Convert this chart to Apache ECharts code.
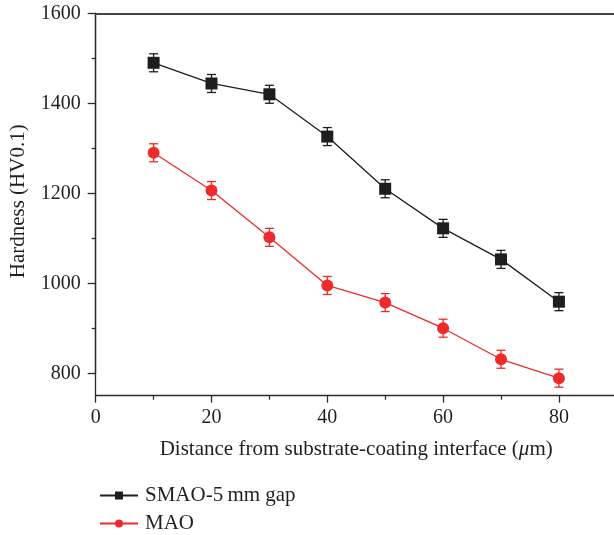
<!DOCTYPE html>
<html>
<head>
<meta charset="utf-8">
<script src="https://cdn.jsdelivr.net/npm/echarts@6/dist/echarts.min.js"></script>
<style>
html,body{margin:0;padding:0;background:#fff;}
#chart{width:614px;height:535px;}
</style>
</head>
<body>
<div id="chart"></div>
<script>
var distances = [10, 20, 30, 40, 50, 60, 70, 80];
var smaoValues = [1490, 1444, 1420, 1326, 1210, 1122, 1053, 959];
var smaoErrors = [20, 20, 20, 20, 20, 20, 20, 20];
var maoValues = [1290, 1206, 1102, 995, 957, 900, 831, 789];
var maoErrors = [20, 20, 20, 20, 20, 20, 20, 20];
var seriesNames = ['SMAO-5\u2009mm gap', 'MAO'];
var xTitle = 'Distance from substrate-coating interface ({i|\u03bc}m)';
var yTitle = 'Hardness (HV0.1)';

var FONT = 'Liberation Serif';
var TXT = '#231f20';
var AX = '#2b2b2b';

function pairs(xs, ys) { return xs.map(function (x, i) { return [x, ys[i]]; }); }
function errData(xs, ys, es) { return xs.map(function (x, i) { return [x, ys[i] - es[i], ys[i] + es[i]]; }); }

function errRender(color) {
  return function (params, api) {
    var x = api.value(0);
    var lo = api.coord([x, api.value(1)]);
    var hi = api.coord([x, api.value(2)]);
    var hw = 4.5;
    var st = { stroke: color, lineWidth: 1.3 };
    return {
      type: 'group',
      children: [
        { type: 'line', shape: { x1: lo[0], y1: lo[1], x2: hi[0], y2: hi[1] }, style: st },
        { type: 'line', shape: { x1: lo[0] - hw, y1: lo[1], x2: lo[0] + hw, y2: lo[1] }, style: st },
        { type: 'line', shape: { x1: hi[0] - hw, y1: hi[1], x2: hi[0] + hw, y2: hi[1] }, style: st }
      ]
    };
  };
}

var chart = echarts.init(document.getElementById('chart'), null, { renderer: 'canvas' });
var BLACK = '#1e1e1e', RED = '#ee2b2b';
var legendText = { fontFamily: FONT, fontSize: 21, color: TXT, padding: [0, 0, 0, 2] };

chart.setOption({
  animation: false,
  backgroundColor: '#fff',
  textStyle: { fontFamily: FONT, color: TXT },
  grid: [
    { left: 95.7, top: 13.3, width: 579, height: 382.4, outerBoundsMode: 'none', containLabel: false },
    { left: 95.7, top: 13.3, width: 579, height: 360, outerBoundsMode: 'none', containLabel: false }
  ],
  legend: [
    {
      data: [{ name: seriesNames[0] }],
      left: 94, top: 480,
      itemWidth: 38, itemHeight: 10,
      textStyle: legendText
    },
    {
      data: [{ name: seriesNames[1] }],
      left: 94, top: 508,
      itemWidth: 38, itemHeight: 10,
      textStyle: legendText
    }
  ],
  xAxis: [
    {
      gridIndex: 0, type: 'value', min: 0, max: 100, interval: 20,
      name: xTitle, nameLocation: 'middle', nameGap: 43,
      nameTextStyle: { fontFamily: FONT, fontSize: 21, color: TXT, padding: [0, 58, 0, 0],
        rich: { i: { fontFamily: FONT, fontSize: 21, fontStyle: 'italic', color: TXT } } },
      axisLine: { onZero: false, lineStyle: { color: AX, width: 1.3 } },
      axisTick: { show: true, inside: false, length: 7, lineStyle: { color: AX, width: 1.3 } },
      minorTick: { show: true, splitNumber: 2, length: 4, lineStyle: { color: AX, width: 1.3 } },
      axisLabel: { fontFamily: FONT, fontSize: 20, color: TXT, margin: 12,
        formatter: function (v) { return v > 80 ? '' : String(v); } },
      splitLine: { show: false }, minorSplitLine: { show: false }
    },
    {
      gridIndex: 0, type: 'value', min: 0, max: 100, position: 'top',
      axisLine: { onZero: false, lineStyle: { color: '#444', width: 2 } },
      axisTick: { show: false }, axisLabel: { show: false }, splitLine: { show: false }
    },
    {
      gridIndex: 1, type: 'value', min: 0, max: 100, show: false, splitLine: { show: false }
    }
  ],
  yAxis: [
    {
      gridIndex: 0, type: 'value', min: 750, max: 1600,
      axisLine: { show: true, onZero: false, lineStyle: { color: AX, width: 1.3 } },
      axisTick: { show: false }, axisLabel: { show: false }, splitLine: { show: false }
    },
    {
      gridIndex: 1, type: 'value', min: 800, max: 1600, interval: 200,
      name: yTitle, nameLocation: 'middle', nameGap: 67,
      nameTextStyle: { fontFamily: FONT, fontSize: 21, color: TXT, padding: [0, 16, 0, 0] },
      axisLine: { show: true, onZero: false, lineStyle: { color: AX, width: 1.3 } },
      axisTick: { show: true, inside: false, length: 8, lineStyle: { color: AX, width: 1.3 } },
      minorTick: { show: true, splitNumber: 2, length: 4, lineStyle: { color: AX, width: 1.3 } },
      axisLabel: { fontFamily: FONT, fontSize: 20, color: TXT, margin: 15,
        formatter: function (v) { return String(v); } },
      splitLine: { show: false }, minorSplitLine: { show: false }
    }
  ],
  series: [
    {
      name: seriesNames[0], type: 'line', xAxisIndex: 0, yAxisIndex: 0,
      data: pairs(distances, smaoValues),
      symbol: 'rect', symbolSize: 12, z: 3,
      lineStyle: { color: BLACK, width: 1.3 },
      itemStyle: { color: BLACK, borderWidth: 0 }
    },
    {
      name: seriesNames[1], type: 'line', xAxisIndex: 0, yAxisIndex: 0,
      data: pairs(distances, maoValues),
      symbol: 'circle', symbolSize: 12, z: 3,
      lineStyle: { color: RED, width: 1.3 },
      itemStyle: { color: RED, borderWidth: 0 }
    },
    {
      name: 'smaoErr', type: 'custom', xAxisIndex: 0, yAxisIndex: 0, z: 4,
      data: errData(distances, smaoValues, smaoErrors),
      renderItem: errRender(BLACK), silent: true
    },
    {
      name: 'maoErr', type: 'custom', xAxisIndex: 0, yAxisIndex: 0, z: 4,
      data: errData(distances, maoValues, maoErrors),
      renderItem: errRender(RED), silent: true
    }
  ]
});
</script>
</body>
</html>
